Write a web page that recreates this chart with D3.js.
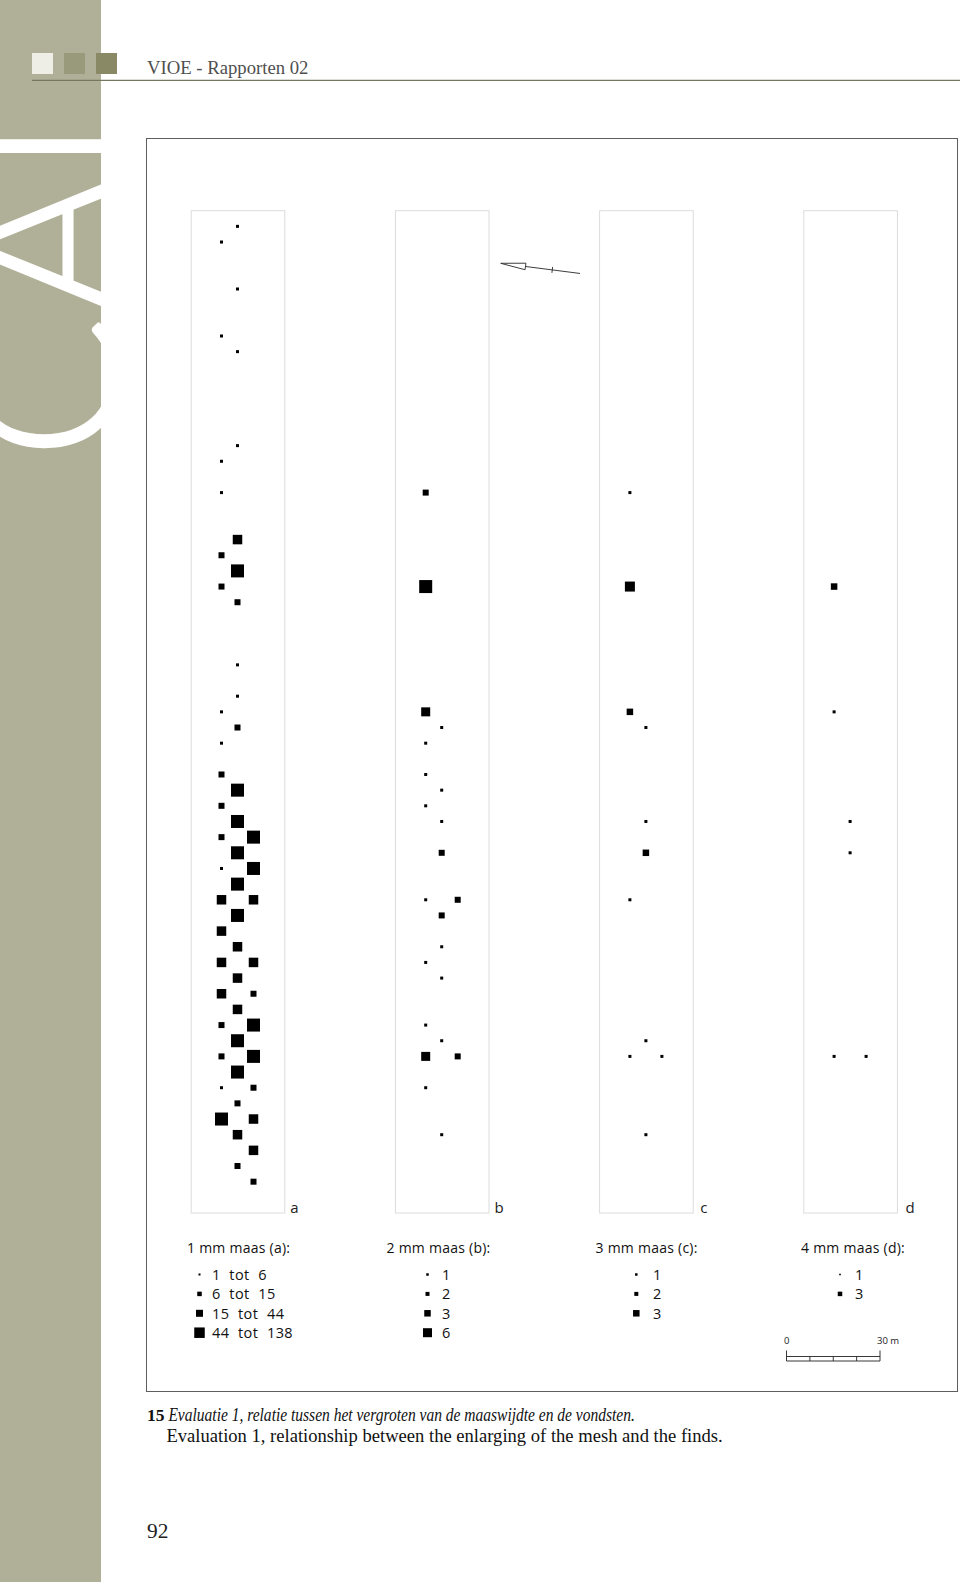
<!DOCTYPE html>
<html><head><meta charset="utf-8">
<script src="https://cdn.jsdelivr.net/npm/d3@7"></script>
<style>body{margin:0;background:#fff} svg{display:block}</style>
</head><body>
<svg id="c" width="960" height="1582"></svg>
<script>
// ---------------- DATA ----------------
const panels = ["a", "b", "c", "d"];
const headings = ["1 mm maas (a):", "2 mm maas (b):", "3 mm maas (c):", "4 mm maas (d):"];
const classLabelsA = ["1 tot 6", "6 tot 15", "15 tot 44", "44 tot 138"];
const classLabelsB = ["1", "2", "3", "6"];
const classLabelsC = ["1", "2", "3"];
const classLabelsD = ["1", "3"];
// finds: [row along the strip, lane (-1 left, 0 centre, 1 right), class index]
const findsA = [
  [0,0,0],[1,-1,0],[4,0,0],[7,-1,0],[8,0,0],[14,0,0],[15,-1,0],[17,-1,0],
  [20,0,2],[21,-1,1],[22,0,3],[23,-1,1],[24,0,1],
  [28,0,0],[30,0,0],[31,-1,0],[32,0,1],[33,-1,0],
  [35,-1,1],[36,0,3],[37,-1,1],[38,0,3],[39,-1,1],[39,1,3],[40,0,3],
  [41,-1,0],[41,1,3],[42,0,3],[43,-1,2],[43,1,2],[44,0,3],[45,-1,2],
  [46,0,2],[47,-1,2],[47,1,2],[48,0,2],[49,-1,2],[49,1,1],[50,0,2],
  [51,-1,1],[51,1,3],[52,0,3],[53,-1,1],[53,1,3],[54,0,3],[55,-1,0],
  [55,1,1],[56,0,1],[57,-1,3],[57,1,2],[58,0,2],[59,1,2],[60,0,1],[61,1,1]
];
const findsB = [
  [17,-1,1],[23,-1,3],[31,-1,2],[32,0,0],[33,-1,0],[35,-1,0],[36,0,0],
  [37,-1,0],[38,0,0],[40,0,1],[43,-1,0],[43,1,1],[44,0,1],[46,0,0],
  [47,-1,0],[48,0,0],[51,-1,0],[52,0,0],[53,-1,2],[53,1,1],[55,-1,0],[58,0,0]
];
const findsC = [
  [17,-1,0],[23,-1,2],[31,-1,1],[32,0,0],[38,0,0],[40,0,1],[43,-1,0],
  [52,0,0],[53,-1,0],[53,1,0],[58,0,0]
];
const findsD = [
  [23,-1,1],[31,-1,0],[38,0,0],[40,0,0],[53,-1,0],[53,1,0]
];
const scaleValues = [0, 7.5, 15, 22.5, 30];
const scaleLabels = [[0, "0"], [30, "30 m"]];
const headerTitle = "VIOE - Rapporten 02";
const captionNumber = "15";
const captionNL = "Evaluatie 1, relatie tussen het vergroten van de maaswijdte en de vondsten.";
const captionEN = "Evaluation 1, relationship between the enlarging of the mesh and the finds.";
const pageNumber = "92";
const sideText = "CAI";

// ---------------- STYLE / LAYOUT ----------------
const finds = [findsA, findsB, findsC, findsD];
const classLabels = [classLabelsA, classLabelsB, classLabelsC, classLabelsD];
const markSizes = [[3, 6, 9.5, 13], [3, 6, 9, 13], [3, 6.5, 10], [3, 6.5]];
const legendSizes = [[2, 4.5, 7, 10.5], [2.5, 4, 6.5, 9], [2.5, 4, 6.5], [1.6, 4.5]];
const sideCol = "#b0af97";

const svg = d3.select("#c");

// sidebar
svg.append("rect").attr("x", 0).attr("y", 0).attr("width", 101).attr("height", 1582).attr("fill", sideCol);
svg.append("clipPath").attr("id", "sideclip").append("rect")
  .attr("x", 0).attr("y", 0).attr("width", 101).attr("height", 1582);
svg.append("g").attr("clip-path", "url(#sideclip)")
  .append("text").text(sideText)
  .attr("transform", "translate(118,459) rotate(-90)")
  .attr("font-family", "Lato, 'Open Sans', sans-serif")
  .attr("font-weight", 300)
  .attr("font-size", 210)
  .attr("letter-spacing", 3)
  .attr("fill", "#fff")
  .attr("stroke", "#fff").attr("stroke-width", 3).attr("stroke-linejoin", "round");

// header
const sqCols = ["#eeeee7", "#999a7c", "#898965"];
svg.selectAll("rect.hsq").data(sqCols).join("rect").attr("class", "hsq")
  .attr("x", (d, i) => 32 + i * 32).attr("y", 53).attr("width", 21).attr("height", 21)
  .attr("fill", d => d);
svg.append("line").attr("x1", 32).attr("x2", 960).attr("y1", 80.3).attr("y2", 80.3)
  .attr("stroke", "#77775f").attr("stroke-width", 1.3);

function fitText(sel, target) {
  const n = sel.node();
  const fs = parseFloat(sel.attr("font-size"));
  const w = n.getComputedTextLength();
  if (w > 0) sel.attr("font-size", fs * target / w);
  return parseFloat(sel.attr("font-size"));
}
const title = svg.append("text").text(headerTitle).attr("x", 147).attr("y", 74)
  .attr("font-family", "'Liberation Serif', serif").attr("font-size", 18.7).attr("fill", "#4f4f4f");
fitText(title, 161.5);

// frame
svg.append("rect").attr("x", 146.5).attr("y", 138.5).attr("width", 811).attr("height", 1253)
  .attr("fill", "none").attr("stroke", "#5e5e5e").attr("stroke-width", 1);

// strips
const colX = d3.scaleLinear().domain([0, 3]).range([190.7, 803.3]);
const colW = 93.6;
const y = d3.scaleLinear().domain([-1, 63]).range([210.7, 1213]);
const lane = d3.scaleLinear().domain([-1, 1]).range([-16, 16]);
const labelDx = [6, 6, 7.5, 8.5];

panels.forEach((p, i) => {
  const g = svg.append("g").attr("transform", `translate(${colX(i)},0)`);
  g.append("rect").attr("x", 0.5).attr("y", y(-1)).attr("width", colW).attr("height", y(63) - y(-1))
    .attr("fill", "none").attr("stroke", "#dcdcdc").attr("stroke-width", 1);
  const sz = markSizes[i];
  g.selectAll("rect.find").data(finds[i]).join("rect").attr("class", "find")
    .attr("x", d => colW / 2 + lane(d[1]) - sz[d[2]] / 2)
    .attr("y", d => y(d[0]) - sz[d[2]] / 2)
    .attr("width", d => sz[d[2]]).attr("height", d => sz[d[2]])
    .attr("fill", "#000");
  g.append("text").text(p).attr("x", colW + labelDx[i]).attr("y", y(63) - 0.5)
    .attr("font-family", "'Open Sans', sans-serif").attr("font-size", 15).attr("fill", "#222");
});

// legends
const headX = [187, 386.5, 595.5, 801];
const symX = [199.5, 427.5, 636.3, 840];
const txtX = [212, 442, 653, 855];
panels.forEach((p, i) => {
  svg.append("text").text(headings[i]).attr("x", headX[i]).attr("y", 1252.5)
    .attr("font-family", "'Open Sans', sans-serif").attr("font-size", 14)
    .attr("letter-spacing", 0.25).attr("fill", "#111");
  const g = svg.append("g");
  const rows = classLabels[i].map((l, j) => ({l, j}));
  g.selectAll("rect").data(rows).join("rect")
    .attr("x", d => symX[i] - legendSizes[i][d.j] / 2)
    .attr("y", d => 1280 + d.j * 19.4 - 5.5 - legendSizes[i][d.j] / 2)
    .attr("width", d => legendSizes[i][d.j]).attr("height", d => legendSizes[i][d.j])
    .attr("fill", "#000");
  g.selectAll("text").data(rows).join("text").text(d => d.l)
    .attr("x", txtX[i]).attr("y", d => 1280 + d.j * 19.4)
    .attr("font-family", "'Open Sans', sans-serif").attr("font-size", 14.5)
    .attr("letter-spacing", 0.4).attr("word-spacing", 4.5).attr("fill", "#111");
});

// north arrow
const na = svg.append("g").attr("transform", "translate(500.7,263.3) rotate(7.3)")
  .attr("fill", "none").attr("stroke", "#333").attr("stroke-width", 0.9);
na.append("path").attr("d", "M0,0L25,-3.3L25,3.3Z");
na.append("path").attr("d", "M25,0L80,0");
na.append("path").attr("d", "M52,-3L52,3");

// scale bar
const sx = d3.scaleLinear().domain([0, 30]).range([786.5, 880]);
const sb = svg.append("g").attr("stroke", "#222").attr("stroke-width", 0.9).attr("fill", "none");
sb.append("line").attr("x1", sx(0)).attr("x2", sx(30)).attr("y1", 1356.5).attr("y2", 1356.5);
sb.append("line").attr("x1", sx(0)).attr("x2", sx(30)).attr("y1", 1361).attr("y2", 1361);
sb.selectAll("line.div").data(scaleValues).join("line").attr("class", "div")
  .attr("x1", d => sx(d)).attr("x2", d => sx(d))
  .attr("y1", (d, i) => (i === 0 || i === scaleValues.length - 1) ? 1350.5 : 1356.5).attr("y2", 1361);
svg.selectAll("text.sl").data(scaleLabels).join("text").attr("class", "sl")
  .text(d => d[1]).attr("x", d => d[0] === 0 ? sx(d[0]) - 2.5 : sx(d[0]) - 3)
  .attr("y", 1344)
  .attr("font-family", "'Open Sans', sans-serif").attr("font-size", 9.5).attr("fill", "#222");

// caption
const c2 = svg.append("text").text(captionEN).attr("x", 166.4).attr("y", 1442)
  .attr("font-family", "'Liberation Serif', serif").attr("font-size", 17).attr("fill", "#111");
const capFs = fitText(c2, 556.5);
svg.append("text").text(captionNumber).attr("x", 147).attr("y", 1421)
  .attr("font-family", "'Liberation Serif', serif").attr("font-weight", "bold").attr("font-size", 17.5)
  .attr("fill", "#111");
svg.append("text").text(captionNL).attr("x", 168.4).attr("y", 1421)
  .attr("font-family", "'Liberation Serif', serif").attr("font-style", "italic").attr("font-size", capFs)
  .attr("textLength", 466.5).attr("lengthAdjust", "spacingAndGlyphs").attr("fill", "#111");

// page number
const pn = svg.append("text").text(pageNumber).attr("x", 147).attr("y", 1538)
  .attr("font-family", "'Liberation Serif', serif").attr("font-size", 22).attr("fill", "#222");
fitText(pn, 21.4);
</script>
</body></html>
